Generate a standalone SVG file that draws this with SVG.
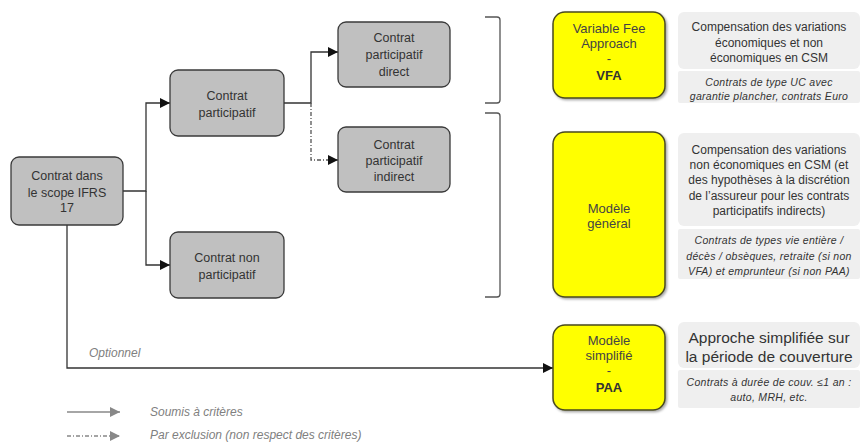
<svg xmlns="http://www.w3.org/2000/svg" width="861" height="443" viewBox="0 0 861 443">
<defs>
<style>
.gn{fill:#c0c0c0;stroke:#3a3a3a;stroke-width:1.3}
.yn{fill:#ffff00;stroke:#4a4a20;stroke-width:1.5}
.info{fill:#efefef;stroke:none}
.t{font-family:"Liberation Sans",Arial,sans-serif;font-size:12.5px;fill:#333;text-anchor:middle}
.ty{font-family:"Liberation Sans",Arial,sans-serif;font-size:13px;fill:#444;text-anchor:middle}
.tb{font-weight:bold;fill:#333}
.ti{font-family:"Liberation Sans",Arial,sans-serif;font-size:10.5px;font-style:italic;fill:#333;text-anchor:middle;letter-spacing:0.3px}
.ta{font-family:"Liberation Sans",Arial,sans-serif;font-size:12px;fill:#333;text-anchor:middle}
.tp{font-size:15.5px}
.tl{font-family:"Liberation Sans",Arial,sans-serif;font-size:12px;font-style:italic;fill:#808080}
.c{fill:none;stroke:#333;stroke-width:1.3}
.d{fill:none;stroke:#555;stroke-width:1.3;stroke-dasharray:4 2 1 2}
.br{fill:none;stroke:#555;stroke-width:1.3}
.lg{fill:none;stroke:#888;stroke-width:1.3}
</style>
<filter id="sh" x="-10%" y="-10%" width="130%" height="130%"><feDropShadow dx="1.5" dy="1.5" stdDeviation="1.2" flood-color="#000" flood-opacity="0.35"/></filter>
<marker id="a" viewBox="0 0 10 10" refX="10" refY="5" markerWidth="10" markerHeight="10" markerUnits="userSpaceOnUse" orient="auto"><path d="M0,0L10,5L0,10z" fill="#111"/></marker>
<marker id="ag" viewBox="0 0 10 10" refX="10" refY="5" markerWidth="11" markerHeight="10" markerUnits="userSpaceOnUse" orient="auto"><path d="M0,0L10,5L0,10z" fill="#888"/></marker>
</defs>
<rect width="861" height="443" fill="#fff"/>

<g id="connectors">
<path class="c" d="M123,191H146V103H170" marker-end="url(#a)"/>
<path class="c" d="M146,191V265H170" marker-end="url(#a)"/>
<path class="c" d="M284,103H311V52H338" marker-end="url(#a)"/>
<path class="d" d="M311,103V160H338" marker-end="url(#a)"/>
<path class="c" d="M67,225V368H553" marker-end="url(#a)"/>
<text class="tl" x="89" y="357">Optionnel</text>
</g>

<g id="brackets">
<path class="br" d="M485,17H497Q500,17 500,20V100Q500,103 497,103H485"/>
<path class="br" d="M485,113H497Q500,113 500,116V294Q500,297 497,297H485"/>
</g>

<g id="n-scope"><rect class="gn" x="11" y="157" width="112" height="68" rx="8"/>
<text class="t" x="67" y="180">Contrat dans</text><text class="t" x="67" y="197">le scope IFRS</text><text class="t" x="67" y="212">17</text></g>

<g id="n-part"><rect class="gn" x="170" y="70" width="114" height="66" rx="8"/>
<text class="t" x="227" y="100">Contrat</text><text class="t" x="227" y="117">participatif</text></g>

<g id="n-nonpart"><rect class="gn" x="170" y="232" width="114" height="66" rx="8"/>
<text class="t" x="227" y="262">Contrat non</text><text class="t" x="227" y="279">participatif</text></g>

<g id="n-direct"><rect class="gn" x="338" y="22" width="112" height="65" rx="8"/>
<text class="t" x="394" y="42">Contrat</text><text class="t" x="394" y="59">participatif</text><text class="t" x="394" y="76">direct</text></g>

<g id="n-indirect"><rect class="gn" x="338" y="127" width="112" height="65" rx="8"/>
<text class="t" x="394" y="149">Contrat</text><text class="t" x="394" y="165">participatif</text><text class="t" x="394" y="181">indirect</text></g>

<g id="n-vfa"><rect class="yn" x="553" y="12" width="112" height="86" rx="12" filter="url(#sh)"/>
<text class="ty" x="609" y="33">Variable Fee</text><text class="ty" x="609" y="48">Approach</text><text class="ty" x="609" y="63">-</text><text class="ty tb" x="609" y="80">VFA</text></g>

<g id="i-vfa"><rect class="info" x="678" y="12" width="182" height="57" rx="6"/>
<text class="ta" x="769" y="31">Compensation  des variations</text><text class="ta" x="769" y="47">économiques  et non</text><text class="ta" x="769" y="62">économiques  en CSM</text>
<rect class="info" x="678" y="71" width="182" height="32" rx="2"/>
<text class="ti" x="769" y="86">Contrats de type UC avec</text><text class="ti" x="769" y="100">garantie plancher, contrats Euro</text></g>

<g id="n-mg"><rect class="yn" x="553" y="132" width="112" height="165" rx="12" filter="url(#sh)"/>
<text class="ty" x="609" y="213">Modèle</text><text class="ty" x="609" y="228">général</text></g>

<g id="i-mg"><rect class="info" x="678" y="133" width="182" height="93" rx="6"/>
<text class="ta" x="769" y="154">Compensation des variations</text><text class="ta" x="769" y="169">non économiques en CSM (et</text><text class="ta" x="769" y="184">des hypothèses à la discrétion</text><text class="ta" x="769" y="200">de l’assureur  pour les contrats</text><text class="ta" x="769" y="215">participatifs indirects)</text>
<rect class="info" x="678" y="229" width="182" height="50" rx="2"/>
<text class="ti" x="769" y="244">Contrats de types vie entière /</text><text class="ti" x="769" y="260">décès / obsèques, retraite (si non</text><text class="ti" x="769" y="275">VFA) et emprunteur  (si non PAA)</text></g>

<g id="n-paa"><rect class="yn" x="553" y="325" width="112" height="85" rx="12" filter="url(#sh)"/>
<text class="ty" x="609" y="345">Modèle</text><text class="ty" x="609" y="360">simplifié</text><text class="ty" x="609" y="375">-</text><text class="ty tb" x="609" y="392">PAA</text></g>

<g id="i-paa"><rect class="info" x="678" y="322" width="182" height="46" rx="6"/>
<text class="ta tp" x="769" y="343">Approche  simplifiée sur</text><text class="ta tp" x="769" y="362">la période de couverture</text>
<rect class="info" x="678" y="370" width="182" height="38" rx="2"/>
<text class="ti" x="769" y="386">Contrats à durée de couv. ≤1 an :</text><text class="ti" x="769" y="401">auto, MRH, etc.</text></g>

<g id="legend">
<path class="lg" d="M67,412H120" marker-end="url(#ag)"/>
<text class="tl" x="150" y="416">Soumis à critères</text>
<path class="lg" d="M67,436H120" stroke-dasharray="4 2 1 2" marker-end="url(#ag)"/>
<text class="tl" x="150" y="439">Par exclusion (non respect des critères)</text>
</g>
</svg>
